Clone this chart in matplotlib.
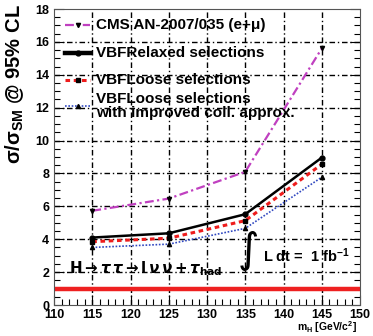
import numpy as np
import matplotlib
matplotlib.use('Agg')
import matplotlib.pyplot as plt
from matplotlib.lines import Line2D
from matplotlib.ticker import MultipleLocator

plt.rcParams['font.family'] = ['Liberation Sans', 'DejaVu Sans']
plt.rcParams['font.weight'] = 'bold'
plt.rcParams['mathtext.fontset'] = 'custom'
plt.rcParams['mathtext.rm'] = 'Liberation Sans:bold'
plt.rcParams['mathtext.bf'] = 'Liberation Sans:bold'
plt.rcParams['mathtext.it'] = 'Liberation Sans:bold'

# data
masses = [115, 125, 135, 145]
cms_an = [5.73, 6.47, 8.10, 15.6]
vbf_relaxed = [4.10, 4.36, 5.52, 8.96]
vbf_loose = [3.85, 4.06, 5.13, 8.56]
vbf_loose_coll = [3.50, 3.70, 4.66, 7.77]
sm_line = 1.0

labels = ['CMS AN-2007/035 (e+\u03bc)', 'VBFRelaxed selections',
          'VBFLoose selections', 'VBFLoose selections\nwith improved coll. approx.']

fig = plt.figure(figsize=(3.73, 3.36), dpi=100)
ax = fig.add_axes([54/373, 1-305/336, 306/373, 296/336])

styles = [
    dict(color='#c040c0', ls=(0, (4, 1.5, 1, 1.5)), lw=1.6, marker='v', ms=3, mfc='k', mec='k'),
    dict(color='black', ls='-', lw=1.8, marker='o', ms=3.5, mfc='k', mec='k'),
    dict(color='#ee1c1c', ls=(0, (1.5, 1.2)), lw=2.2, marker='s', ms=3.5, mfc='k', mec='k'),
    dict(color='#3048c0', ls=(0, (1, 1)), lw=1.2, marker='^', ms=3, mfc='k', mec='k'),
]
series = [cms_an, vbf_relaxed, vbf_loose, vbf_loose_coll]
for y, st in zip(series, styles):
    ax.plot(masses, y, zorder=3, **st)

ax.axhline(sm_line, color='#ee2020', lw=3.2, zorder=2)

ax.set_xlim(110, 150)
ax.set_ylim(0, 18)
ax.xaxis.set_major_locator(MultipleLocator(5))
ax.xaxis.set_minor_locator(MultipleLocator(1))
ax.yaxis.set_major_locator(MultipleLocator(2))
ax.yaxis.set_minor_locator(MultipleLocator(0.5))
ax.tick_params(which='both', direction='in', top=False, right=True, labelsize=9, width=0.8)
ax.tick_params(which='major', length=7)
ax.tick_params(which='minor', length=4)
ax.tick_params(axis='x', pad=3.0)

# dash-dot grid at the major ticks
for xv in [115, 120, 125, 130, 135, 140, 145]:
    ax.axvline(xv, color='black', ls=(0, (4, 2, 1, 2)), lw=1.0, zorder=1)
for yv in [2, 4, 6, 8, 10, 12, 14, 16]:
    ax.axhline(yv, color='black', ls=(0, (4, 2, 1, 2)), lw=1.0, zorder=1)

for s in ax.spines.values():
    s.set_color('#555555')
for lab in ax.get_xticklabels() + ax.get_yticklabels():
    lab.set_fontweight('bold')

ax.set_xlabel(r'm$_{\mathrm{H}}$ [GeV/c$^{2}$]', fontsize=7.5, fontweight='bold')
ax.xaxis.set_label_coords(0.99, -0.049)
ax.xaxis.label.set_horizontalalignment('right')
ax.xaxis.label.set_verticalalignment('top')
ax.set_ylabel(r'$\sigma/\sigma_{\mathrm{SM}}$ @ 95% CL', fontsize=14.5, fontweight='bold')
ax.yaxis.set_label_coords(-0.13, 1.015)
ax.yaxis.label.set_verticalalignment('center')
ax.yaxis.label.set_horizontalalignment('right')

# manual legend
tr = ax.transAxes
rows = [0.946, 0.851, 0.760, 0.672]
for yy, st, lab in zip(rows, styles, labels):
    st2 = dict(st)
    if st2['ls'] == '-':
        st2['lw'] = 3.2
    ax.add_line(Line2D([0.036, 0.077, 0.118], [yy, yy, yy], transform=tr, markevery=[1], **st2))
    ax.text(0.137, yy, lab, transform=tr, fontsize=11, fontweight='bold', va='center', ha='left',
            linespacing=1.0)

ax.text(112.0, 2.2,
        r'$\mathbf{H}\rightarrow\tau\,\tau\rightarrow\mathbf{l}\,\nu\,\nu\,\mathbf{+}\,\tau_{\mathbf{had}}$',
        fontsize=10.8, va='center', ha='left', math_fontfamily='dejavusans')
ax.text(135.3, 3.3, r'$\int$', fontsize=21, va='center', ha='center', math_fontfamily='dejavusans')
ax.text(137.3, 3.0, r'L dt =  1 fb$^{-1}$', fontsize=10.5, fontweight='bold', va='center', ha='left')

fig.savefig('out.png', dpi=100)
